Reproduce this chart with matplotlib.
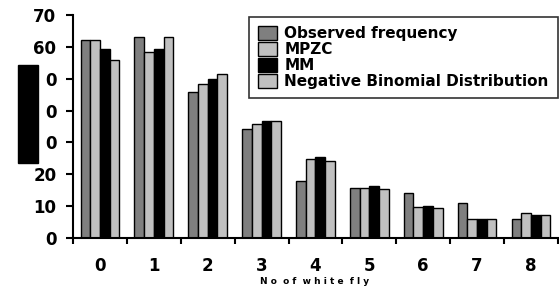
import numpy as np
import matplotlib
matplotlib.use('Agg')
import matplotlib.pyplot as plt
from matplotlib.patches import Rectangle

# valores
categorias = ['0', '1', '2', '3', '4', '5', '6', '7', '8']
observada = [62, 63, 45.8, 34.1, 17.9, 15.8, 14.2, 11.1, 5.9]
mpzc = [62, 58.3, 48.3, 35.7, 24.7, 15.8, 9.8, 5.9, 7.9]
mm = [59.3, 59.3, 49.9, 36.8, 25.3, 16.3, 10.0, 5.9, 7.3]
binneg = [55.8, 63, 51.5, 36.8, 24.3, 15.3, 9.4, 5.9, 7.3]
series = ['Observed frequency', 'MPZC', 'MM', 'Negative Binomial Distribution']
colores = ['#7f7f7f', '#c0c0c0', '#000000', '#c0c0c0']
yticks = [0, 10, 20, 30, 40, 50, 60, 70]
ylabels = ['0', '10', '20', '0', '0', '0', '60', '70']

fig = plt.figure(figsize=(5.59, 2.87), dpi=100)
ax = fig.add_axes([0.1306, 0.1707, 0.8674, 0.777])

x = np.arange(len(categorias))
w = 0.18
datos = [observada, mpzc, mm, binneg]
for i, (d, c, s) in enumerate(zip(datos, colores, series)):
    ax.bar(x + (i - 1.5) * w, d, w, color=c, edgecolor='black', linewidth=1.0, label=s)

ax.set_xlim(-0.5, 8.5)
ax.set_ylim(0, 70)
for lado in ['top', 'right']:
    ax.spines[lado].set_visible(False)
ax.spines['left'].set_linewidth(1.5)
ax.spines['bottom'].set_linewidth(1.5)

ax.set_yticks(yticks)
ax.set_yticklabels(ylabels, fontsize=12, fontweight='bold')
ax.tick_params(axis='y', length=5, width=1.5, pad=7)
ax.set_xticks(x)
ax.set_xticklabels(categorias, fontsize=12, fontweight='bold')
ax.tick_params(axis='x', length=0, pad=14)
ax.set_xticks(np.arange(-0.5, 9.0, 1), minor=True)
ax.tick_params(axis='x', which='minor', length=4, width=1.5)

fig.text(0.563, 0.012, 'N o  o f  w h i t e  f l y', fontsize=6.5, fontweight='bold', ha='center')

leg = ax.legend(loc='upper right', bbox_to_anchor=(1.0, 0.99), borderaxespad=0,
                prop={'weight': 'bold', 'size': 11}, frameon=True, fancybox=False,
                edgecolor='black', handlelength=1.2, handleheight=1.0,
                labelspacing=0.05, handletextpad=0.5, borderpad=0.6)
leg.get_frame().set_linewidth(1.2)

# rectangulo negro a la izquierda
fig.patches.append(Rectangle((18 / 559, 1 - 163 / 287), 20 / 559, 98 / 287,
                             transform=fig.transFigure, color='black'))

fig.savefig('out.png', dpi=100)
